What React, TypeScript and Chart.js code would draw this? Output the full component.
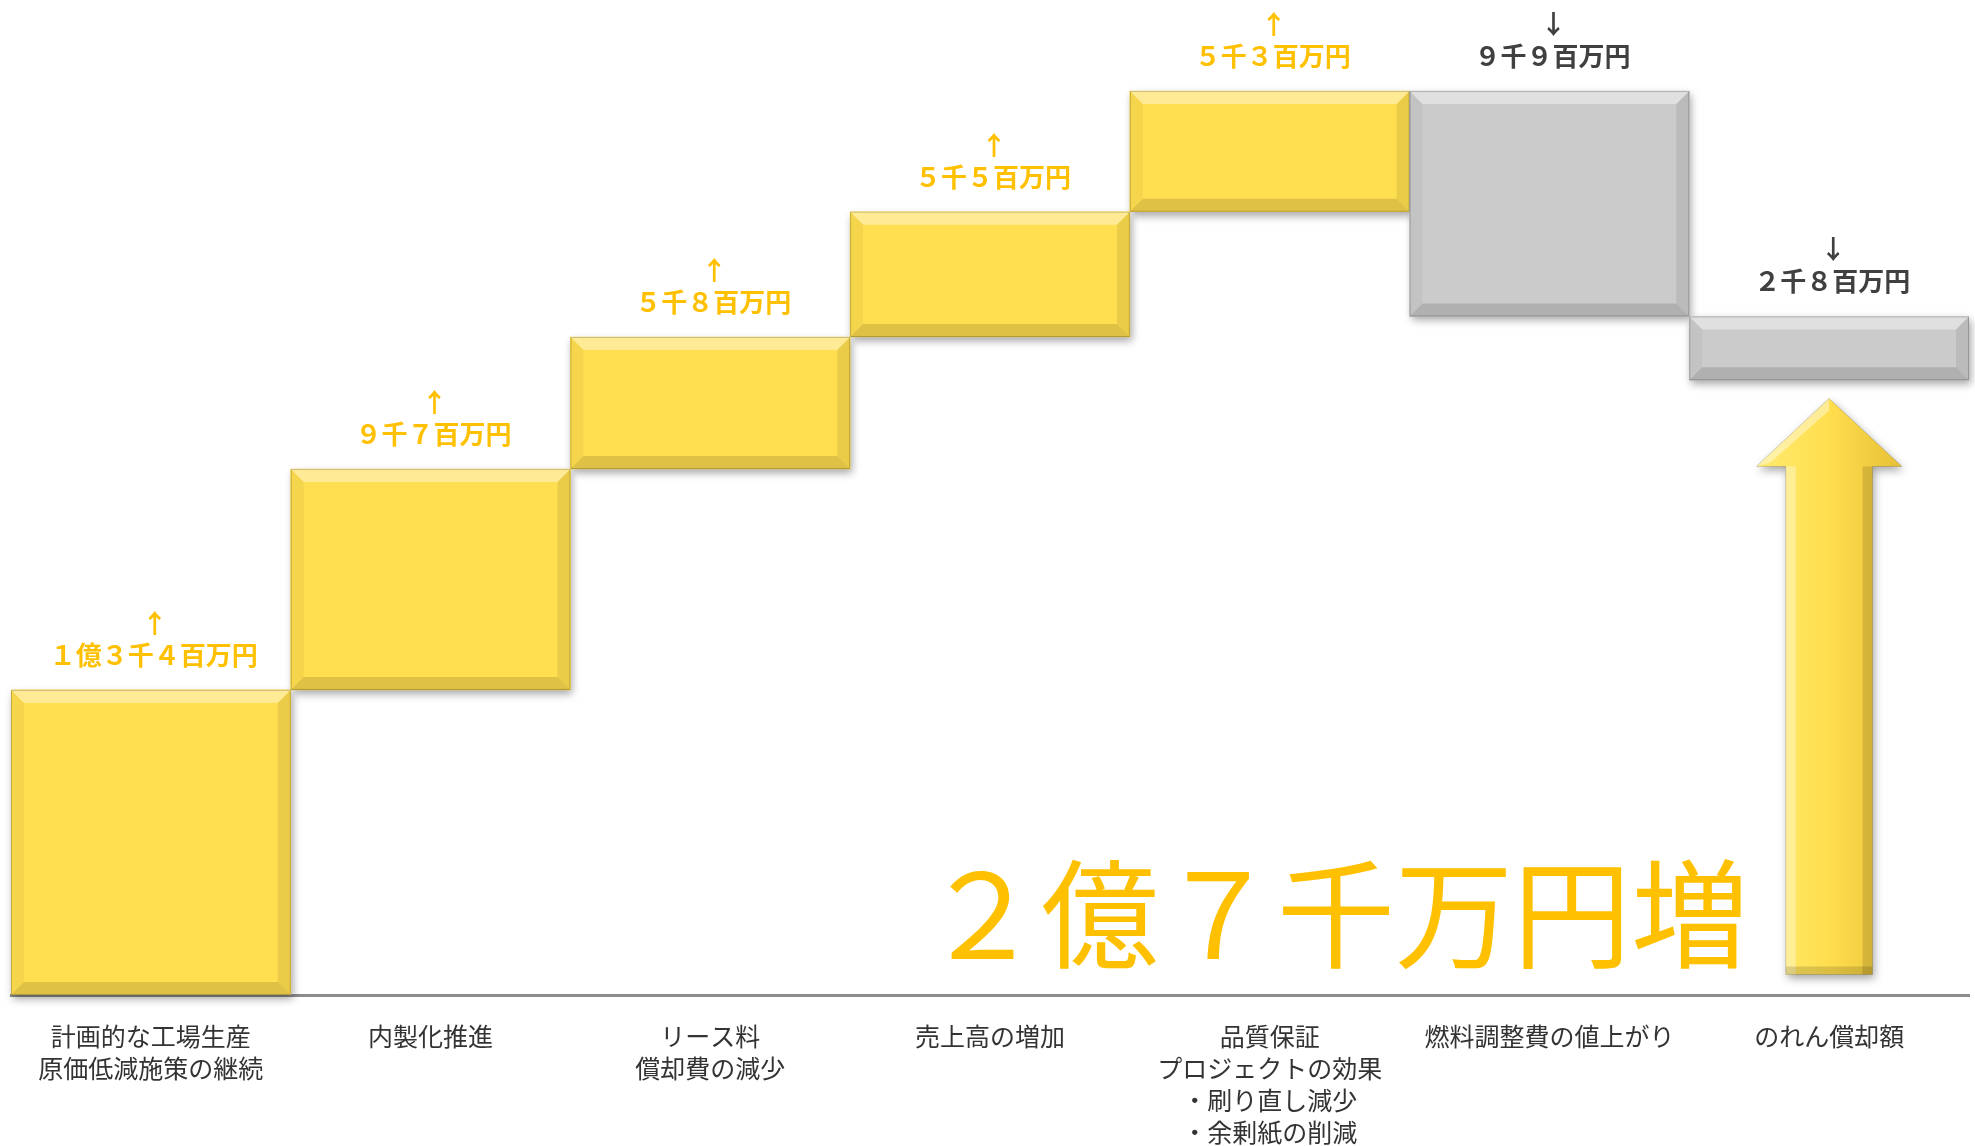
import { useEffect, useRef } from 'react';
import { Chart, registerables } from 'chart.js';

Chart.register(...registerables);

const categories = [
  ['計画的な工場生産', '原価低減施策の継続'],
  '内製化推進',
  ['リース料', '償却費の減少'],
  '売上高の増加',
  ['品質保証', 'プロジェクトの効果', '・刷り直し減少', '・余剰紙の削減'],
  '燃料調整費の値上がり',
  'のれん償却額',
];
const deltas = [134, 97, 58, 55, 53, -99, -28];
const changeLabels = [
  '１億３千４百万円',
  '９千７百万円',
  '５千８百万円',
  '５千５百万円',
  '５千３百万円',
  '９千９百万円',
  '２千８百万円',
];
const resultArrow = [9, 262];
const totalLabel = '２億７千万円増';
const yMax = 437;

const FONT = '"Noto Sans CJK JP", "Noto Sans", sans-serif';
const UP = '#FFDE50';
const DOWN = '#CBCBCB';

function bevel(ctx: CanvasRenderingContext2D, x0: number, y0: number, x1: number, y1: number, b: number) {
  const poly = (pts: number[][], color: string) => {
    ctx.beginPath();
    ctx.moveTo(pts[0][0], pts[0][1]);
    for (let i = 1; i < pts.length; i++) ctx.lineTo(pts[i][0], pts[i][1]);
    ctx.closePath();
    ctx.fillStyle = color;
    ctx.fill();
  };
  poly([[x0, y0], [x1, y0], [x1 - b, y0 + b], [x0 + b, y0 + b]], 'rgba(255,255,255,0.4)');
  poly([[x0, y0], [x0 + b, y0 + b], [x0 + b, y1 - b], [x0, y1]], 'rgba(0,0,0,0.04)');
  poly([[x1, y0], [x1 - b, y0 + b], [x1 - b, y1 - b], [x1, y1]], 'rgba(0,0,0,0.08)');
  poly([[x0, y1], [x1, y1], [x1 - b, y1 - b], [x0 + b, y1 - b]], 'rgba(0,0,0,0.13)');
  ctx.strokeStyle = 'rgba(0,0,0,0.2)';
  ctx.lineWidth = 1;
  ctx.strokeRect(x0 + 0.5, y0 + 0.5, x1 - x0 - 1, y1 - y0 - 1);
}

const decorPlugin = {
  id: 'decor',
  beforeDatasetsDraw(chart: any) {
    const ctx = chart.ctx as CanvasRenderingContext2D;
    const meta = chart.getDatasetMeta(0);
    ctx.save();
    meta.data.forEach((el: any, i: number) => {
      const top = Math.min(el.y, el.base);
      const bot = Math.max(el.y, el.base);
      ctx.shadowColor = 'rgba(0,0,0,0.35)';
      ctx.shadowBlur = 8;
      ctx.shadowOffsetX = 2;
      ctx.shadowOffsetY = 4;
      ctx.fillStyle = deltas[i] >= 0 ? UP : DOWN;
      ctx.fillRect(el.x - el.width / 2, top, el.width, bot - top);
    });
    ctx.restore();
  },
  afterDatasetsDraw(chart: any) {
    const ctx = chart.ctx as CanvasRenderingContext2D;
    const meta = chart.getDatasetMeta(0);
    ctx.save();
    meta.data.forEach((el: any) => {
      const top = Math.min(el.y, el.base);
      const bot = Math.max(el.y, el.base);
      bevel(ctx, el.x - el.width / 2, top, el.x + el.width / 2, bot, 13);
    });
    // result arrow
    const am = chart.getDatasetMeta(1);
    const arrowValues = chart.data.datasets[1].data;
    am.data.forEach((el: any, i: number) => {
      if (arrowValues[i] == null) return;
      const top = Math.min(el.y, el.base);
      const bot = Math.max(el.y, el.base);
      const cx = el.x;
      const hw = el.width * 0.26;
      const sw = el.width * 0.155;
      const hh = el.width * 0.243;
      const path = () => {
        ctx.beginPath();
        ctx.moveTo(cx, top);
        ctx.lineTo(cx + hw, top + hh);
        ctx.lineTo(cx + sw, top + hh);
        ctx.lineTo(cx + sw, bot);
        ctx.lineTo(cx - sw, bot);
        ctx.lineTo(cx - sw, top + hh);
        ctx.lineTo(cx - hw, top + hh);
        ctx.closePath();
      };
      ctx.save();
      ctx.shadowColor = 'rgba(0,0,0,0.35)';
      ctx.shadowBlur = 8;
      ctx.shadowOffsetX = 2;
      ctx.shadowOffsetY = 4;
      const g = ctx.createLinearGradient(cx - hw, 0, cx + hw, 0);
      g.addColorStop(0, '#FFEB70');
      g.addColorStop(0.5, '#FFDE4E');
      g.addColorStop(1, '#E6BF36');
      ctx.fillStyle = g;
      path();
      ctx.fill();
      ctx.restore();
      ctx.fillStyle = 'rgba(255,255,255,0.35)';
      ctx.fillRect(cx - sw, top + hh, 10, bot - top - hh);
      ctx.fillStyle = 'rgba(0,0,0,0.12)';
      ctx.fillRect(cx + sw - 10, top + hh, 10, bot - top - hh);
      ctx.fillStyle = 'rgba(0,0,0,0.14)';
      ctx.fillRect(cx - sw, bot - 8, sw * 2, 8);
      ctx.beginPath();
      ctx.moveTo(cx, top);
      ctx.lineTo(cx - hw, top + hh);
      ctx.lineTo(cx - hw + 14, top + hh - 4);
      ctx.lineTo(cx, top + 12);
      ctx.closePath();
      ctx.fillStyle = 'rgba(255,255,255,0.4)';
      ctx.fill();
      ctx.strokeStyle = 'rgba(0,0,0,0.15)';
      ctx.lineWidth = 1;
      path();
      ctx.stroke();
    });

    // change labels
    ctx.textAlign = 'center';
    ctx.textBaseline = 'middle';
    ctx.font = `bold 26px ${FONT}`;
    meta.data.forEach((el: any, i: number) => {
      const top = Math.min(el.y, el.base);
      const up = deltas[i] >= 0;
      ctx.fillStyle = up ? '#FFC000' : '#404040';
      ctx.fillText(up ? '↑' : '↓', el.x + 4, top - 67);
      ctx.fillText(changeLabels[i], el.x + 3, top - 35);
    });

    // total label
    ctx.font = `normal 118px ${FONT}`;
    ctx.fillStyle = '#FFC000';
    ctx.textAlign = 'center';
    ctx.textBaseline = 'middle';
    ctx.fillText(totalLabel, 1336, 914);
    ctx.restore();
  },
};

export default function App() {
  const ref = useRef<HTMLCanvasElement>(null);
  useEffect(() => {
    document.body.style.margin = '0';
    let run = 0;
    const floating = deltas.map((d) => {
      const s = run;
      run += d;
      return [s, run];
    });
    const arrowData = categories.map((_, i) => (i === categories.length - 1 ? resultArrow : null));
    const chart = new Chart(ref.current as HTMLCanvasElement, {
      type: 'bar',
      data: {
        labels: categories as any,
        datasets: [
          {
            label: 'change',
            data: floating as any,
            backgroundColor: deltas.map((d) => (d >= 0 ? UP : DOWN)),
            borderWidth: 0,
            borderSkipped: false,
            grouped: false,
            barPercentage: 1,
            categoryPercentage: 1,
          },
          {
            label: 'result',
            data: arrowData as any,
            backgroundColor: 'rgba(0,0,0,0)',
            borderWidth: 0,
            grouped: false,
            barPercentage: 1,
            categoryPercentage: 1,
          },
        ],
      },
      options: {
        responsive: false,
        animation: false,
        devicePixelRatio: 1,
        layout: { padding: { left: 11, right: 6, top: 0, bottom: 0 } },
        plugins: { legend: { display: false }, tooltip: { enabled: false } },
        scales: {
          x: {
            grid: { display: false, drawTicks: false },
            border: { display: true, color: '#8C8C8C', width: 3 },
            ticks: {
              color: '#333333',
              padding: 25,
              maxRotation: 0,
              autoSkip: false,
              font: { family: FONT, size: 25, lineHeight: 1.28 },
            },
            afterFit: (scale: any) => {
              scale.height = 151;
            },
          },
          y: { display: false, min: 0, max: yMax },
        },
      },
      plugins: [decorPlugin],
    });
    return () => chart.destroy();
  }, []);
  return (
    <div style={{ width: 1975, height: 1146 }}>
      <canvas ref={ref} width={1975} height={1146} style={{ display: 'block', width: '1975px', height: '1146px' }} />
    </div>
  );
}
